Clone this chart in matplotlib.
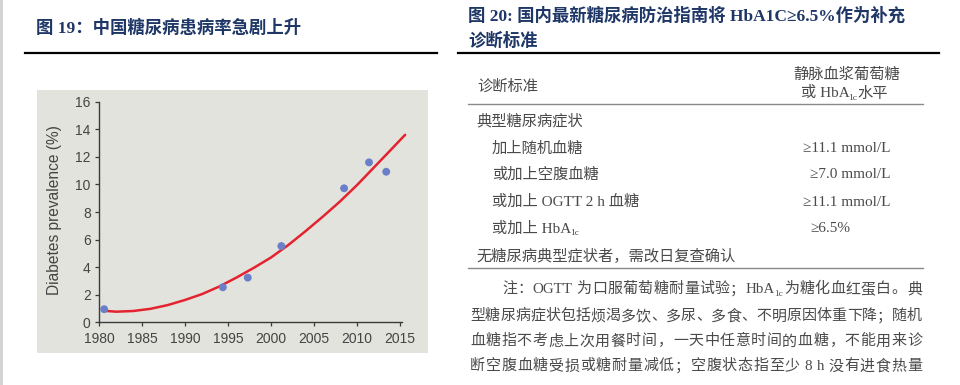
import re
import matplotlib
matplotlib.use('Agg')
import matplotlib.pyplot as plt
from matplotlib.patches import Rectangle
from matplotlib.lines import Line2D

plt.rcParams['font.family'] = ['Liberation Sans', 'DejaVu Sans']

W, H = 960, 385

# survey results (dots)
survey_year = [1980.6, 1994.4, 1997.3, 2001.2, 2008.5, 2011.4, 2013.4]
survey_prev = [0.95, 2.54, 3.24, 5.53, 9.72, 11.6, 10.92]

# fitted trend line
trend_year = [1980.5, 1982, 1984, 1986, 1988, 1990, 1992, 1994, 1996, 1998,
              2000, 2002, 2004, 2006, 2008, 2010, 2012, 2014, 2015.6]
trend_prev = [0.84, 0.77, 0.82, 0.98, 1.25, 1.62, 2.05, 2.6, 3.25, 3.95,
              4.7, 5.6, 6.6, 7.65, 8.75, 9.95, 11.25, 12.55, 13.6]

x_ticks = [1980, 1985, 1990, 1995, 2000, 2005, 2010, 2015]
y_ticks = [0, 2, 4, 6, 8, 10, 12, 14, 16]

title_left = '图 19：中国糖尿病患病率急剧上升'
title_right = ['图 20: 国内最新糖尿病防治指南将 HbA1C≥6.5%作为补充', '诊断标准']

# {..} marks a subscript
head_left = '诊断标准'
head_right = ['静脉血浆葡萄糖', '或 HbA{1c}水平']
group_row = '典型糖尿病症状'
row_labels = ['加上随机血糖', '或加上空腹血糖', '或加上 OGTT 2 h 血糖', '或加上 HbA{1c}']
row_values = ['≥11.1 mmol/L', '≥7.0 mmol/L', '≥11.1 mmol/L', '≥6.5%']
last_row = '无糖尿病典型症状者，需改日复查确认'
notes = ['注：OGTT 为口服葡萄糖耐量试验；HbA{1c}为糖化血红蛋白。典',
         '型糖尿病症状包括烦渴多饮、多尿、多食、不明原因体重下降；随机',
         '血糖指不考虑上次用餐时间，一天中任意时间的血糖，不能用来诊',
         '断空腹血糖受损或糖耐量减低；空腹状态指至少 8 h 没有进食热量']

CJK_SERIF = ['Liberation Serif', 'Noto Sans CJK SC']
NAVY = '#1F3767'
GREY_TXT = '#4A4A4A'

fig = plt.figure(figsize=(W / 100, H / 100), dpi=100)
rend = fig.canvas.get_renderer()


def fx(x):
    return x / W


def fy(y):
    return 1 - y / H


def make(s, size, color, family, weight='normal'):
    'build text pieces for s, return them with their total width in px'
    items = []
    for i, p in enumerate(re.split(r'\{(.*?)\}', s)):
        if not p:
            continue
        sub = i % 2 == 1
        t = fig.text(0, 0, p, fontsize=size * 0.62 if sub else size,
                     color=color, family=family, weight=weight, va='baseline')
        w = t.get_window_extent(rend).width
        items.append((t, sub, w))
    return items, sum(w for _, _, w in items)


def width_of(s, size, family=CJK_SERIF):
    items, tw = make(s, size, 'black', family)
    for t, _, _ in items:
        t.remove()
    return tw


def move(items, x, y, size):
    # y is the visual centre of the line, turn it into a baseline
    base = y + 0.36 * size * 100 / 72
    for t, sub, w in items:
        dy = 0.16 * size * 100 / 72 if sub else 0
        t.set_position((fx(x - (1 if sub else 0)), fy(base + dy)))
        x += w - (1 if sub else 0)


def place(x, y, s, size, color=GREY_TXT, family=CJK_SERIF, weight='normal', ha='left'):
    items, tw = make(s, size, color, family, weight)
    if ha == 'center':
        x -= tw / 2
    elif ha == 'right':
        x -= tw
    move(items, x, y, size)
    return tw


def justify(x0, x1, y, s, size, color=GREY_TXT, family=CJK_SERIF):
    toks = re.findall(r'[A-Za-z0-9.]+(?:\{[^}]*\})?| |.', s)
    built = []
    for tk in toks:
        if tk == ' ':
            built.append((None, size * 100 / 72 * 0.2))
        else:
            built.append(make(tk, size, color, family))
    gap = (x1 - x0 - sum(w for _, w in built)) / (len(built) - 1)
    x = x0
    for items, w in built:
        if items:
            move(items, x, y, size)
        x += w + gap


def hline(x0, x1, y, color, lw):
    fig.add_artist(Line2D([fx(x0), fx(x1)], [fy(y), fy(y)], color=color, lw=lw,
                          transform=fig.transFigure))


# faint page edge on the left
fig.add_artist(Line2D([fx(1), fx(1)], [0, 1], color='#D0D0D0', lw=2,
                      transform=fig.transFigure))

# ---- left panel --------------------------------------------------------
place(36, 27, title_left, 12.5, NAVY, weight='bold')
hline(25, 437, 53, 'black', 1.6)

fig.add_artist(Rectangle((fx(37), fy(353)), fx(428) - fx(37), fy(90) - fy(353),
                         transform=fig.transFigure, facecolor='#E3E3DD',
                         edgecolor='none', zorder=-1))

ax = fig.add_axes([fx(99), fy(322.3), fx(401.7) - fx(99), fy(101.7) - fy(322.3)])
ax.patch.set_alpha(0)
ax.plot(trend_year, trend_prev, color='#E3232F', lw=1.8, zorder=2, clip_on=False,
        solid_capstyle='round')
ax.scatter(survey_year, survey_prev, s=32, color='#6B7EC8', edgecolors='none',
           zorder=3, clip_on=False)
ax.set_xlim(1980, 2015.2)
ax.set_ylim(0, 16)
ax.set_xticks(x_ticks)
ax.set_yticks(y_ticks)
for side in ('top', 'right'):
    ax.spines[side].set_visible(False)
for side in ('left', 'bottom'):
    ax.spines[side].set_color('#3A3A3A')
    ax.spines[side].set_linewidth(1.0)
ax.tick_params(direction='out', length=3, width=0.9, color='#3A3A3A',
               labelsize=10, labelcolor='#444444')
ax.tick_params(axis='y', pad=3)
ax.tick_params(axis='x', pad=4)
ax.set_ylabel('Diabetes prevalence (%)', fontsize=11.2, color='#444444')
ax.yaxis.set_label_coords((62 - 99) / (401.7 - 99), 0.51)

# ---- right panel -------------------------------------------------------
place(468, 14, title_right[0], 12.5, NAVY, weight='bold')
place(468, 40, title_right[1], 12.5, NAVY, weight='bold')
hline(458, 939, 53, 'black', 1.6)

place(477, 85, head_left, 11)
place(847, 73, head_right[0], 11, ha='center')
place(845, 92, head_right[1], 11, ha='center')
hline(468, 923, 104, '#8A8A8A', 1.0)

place(476, 120, group_row, 11)
row_y = [147, 173, 200, 227]
for lab, val, y in zip(row_labels, row_values, row_y):
    place(492, y, lab, 11)
    pre = width_of(val.split('.')[0], 11)
    place(826 - pre, y, val, 11)
place(476, 255, last_row, 11)
hline(468, 923, 268, '#8A8A8A', 1.0)

note_x = [502, 470, 470, 470]
note_y = [288, 315, 340, 365]
for s, x0, y in zip(notes, note_x, note_y):
    justify(x0, 922, y, s, 10.8)

fig.savefig('out.png', dpi=100)
